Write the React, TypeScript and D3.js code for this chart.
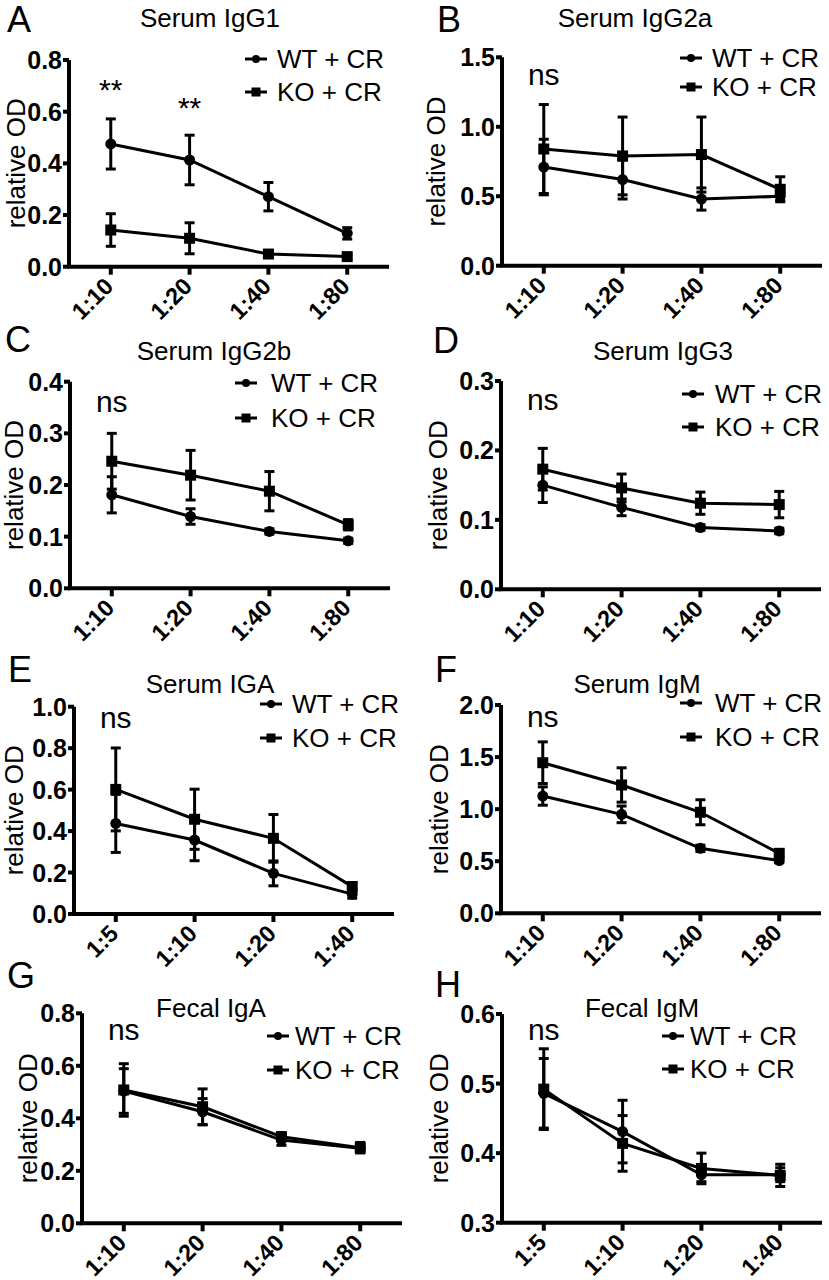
import React from "react";
import * as d3 from "d3";

// dilution categories
const dil10 = ["1:10", "1:20", "1:40", "1:80"];
const dil5 = ["1:5", "1:10", "1:20", "1:40"];
const seriesNames = ["WT + CR", "KO + CR"];

// A Serum IgG1
const igg1WT = [0.475, 0.413, 0.271, 0.129];
const igg1WTErr = [0.097, 0.096, 0.055, 0.022];
const igg1KO = [0.142, 0.11, 0.049, 0.039];
const igg1KOErr = [0.063, 0.06, 0.01, 0.008];
// B Serum IgG2a
const igg2aWT = [0.71, 0.62, 0.48, 0.5];
const igg2aWTErr = [0.2, 0.14, 0.08, 0.03];
const igg2aKO = [0.84, 0.79, 0.8, 0.55];
const igg2aKOErr = [0.32, 0.28, 0.27, 0.09];
// C Serum IgG2b
const igg2bWT = [0.181, 0.139, 0.11, 0.092];
const igg2bWTErr = [0.035, 0.015, 0.005, 0.005];
const igg2bKO = [0.246, 0.219, 0.188, 0.123];
const igg2bKOErr = [0.054, 0.048, 0.038, 0.01];
// D Serum IgG3
const igg3WT = [0.15, 0.118, 0.089, 0.084];
const igg3WTErr = [0.025, 0.012, 0.004, 0.004];
const igg3KO = [0.173, 0.146, 0.124, 0.122];
const igg3KOErr = [0.03, 0.02, 0.016, 0.019];
// E Serum IGA
const igaWT = [0.437, 0.357, 0.196, 0.096];
const igaWTErr = [0.14, 0.1, 0.06, 0.02];
const igaKO = [0.601, 0.457, 0.365, 0.132];
const igaKOErr = [0.2, 0.145, 0.115, 0.02];
// F Serum IgM
const igmWT = [1.126, 0.95, 0.624, 0.506];
const igmWTErr = [0.088, 0.08, 0.03, 0.02];
const igmKO = [1.446, 1.232, 0.97, 0.576];
const igmKOErr = [0.2, 0.165, 0.12, 0.02];
// G Fecal IgA
const fIgaWT = [0.504, 0.425, 0.317, 0.286];
const fIgaWTErr = [0.085, 0.05, 0.02, 0.015];
const fIgaKO = [0.508, 0.444, 0.33, 0.288];
const fIgaKOErr = [0.1, 0.068, 0.015, 0.02];
// H Fecal IgM
const fIgmWT = [0.486, 0.431, 0.369, 0.369];
const fIgmWTErr = [0.05, 0.045, 0.01, 0.01];
const fIgmKO = [0.492, 0.414, 0.378, 0.368];
const fIgmKOErr = [0.058, 0.04, 0.022, 0.016];

const FONT = "Liberation Sans, Arial, sans-serif";

const panels = [
  { letter: "A", lx: 7, ly: 32, title: "Serum IgG1", tx: 210, ty: 27, x0: 69, yB: 266.7, yT: 60, ylabX: 25,
    legX: 245, legTX: 277, legY: [59, 92], cats: dil10, yMin: 0, yMax: 0.8, step: 0.2,
    wt: igg1WT, wtErr: igg1WTErr, ko: igg1KO, koErr: igg1KOErr,
    ann: [{ text: "**", i: 0, y: 100 }, { text: "**", i: 1, y: 118 }] },
  { letter: "B", lx: 437, ly: 32, title: "Serum IgG2a", tx: 635, ty: 27, x0: 502, yB: 265.7, yT: 57.3, ylabX: 445,
    legX: 680, legTX: 712, legY: [58, 87], cats: dil10, yMin: 0, yMax: 1.5, step: 0.5,
    wt: igg2aWT, wtErr: igg2aWTErr, ko: igg2aKO, koErr: igg2aKOErr,
    ann: [{ text: "ns", i: 0, y: 85 }] },
  { letter: "C", lx: 5, ly: 352, title: "Serum IgG2b", tx: 214, ty: 360, x0: 70, yB: 588.3, yT: 381.7, ylabX: 23,
    legX: 235, legTX: 271, legY: [383, 418], cats: dil10, yMin: 0, yMax: 0.4, step: 0.1,
    wt: igg2bWT, wtErr: igg2bWTErr, ko: igg2bKO, koErr: igg2bKOErr,
    ann: [{ text: "ns", i: 0, y: 412 }] },
  { letter: "D", lx: 433, ly: 353, title: "Serum IgG3", tx: 663, ty: 360, x0: 501, yB: 589.3, yT: 381, ylabX: 447,
    legX: 682, legTX: 715, legY: [394, 427], cats: dil10, yMin: 0, yMax: 0.3, step: 0.1,
    wt: igg3WT, wtErr: igg3WTErr, ko: igg3KO, koErr: igg3KOErr,
    ann: [{ text: "ns", i: 0, y: 410 }] },
  { letter: "E", lx: 8, ly: 682, title: "Serum IGA", tx: 210, ty: 693, x0: 74, yB: 914, yT: 706.7, ylabX: 23,
    legX: 260, legTX: 292, legY: [704, 738], cats: dil5, yMin: 0, yMax: 1.0, step: 0.2,
    wt: igaWT, wtErr: igaWTErr, ko: igaKO, koErr: igaKOErr,
    ann: [{ text: "ns", i: 0, y: 728 }] },
  { letter: "F", lx: 435, ly: 682, title: "Serum IgM", tx: 637, ty: 693, x0: 501, yB: 913.3, yT: 705, ylabX: 448,
    legX: 680, legTX: 715, legY: [703, 737], cats: dil10, yMin: 0, yMax: 2.0, step: 0.5,
    wt: igmWT, wtErr: igmWTErr, ko: igmKO, koErr: igmKOErr,
    ann: [{ text: "ns", i: 0, y: 727 }] },
  { letter: "G", lx: 7, ly: 988, title: "Fecal IgA", tx: 211, ty: 1017, x0: 82, yB: 1223.3, yT: 1013.3, ylabX: 37,
    legX: 267, legTX: 295, legY: [1036, 1070], cats: dil10, yMin: 0, yMax: 0.8, step: 0.2,
    wt: fIgaWT, wtErr: fIgaWTErr, ko: fIgaKO, koErr: fIgaKOErr,
    ann: [{ text: "ns", i: 0, y: 1040 }] },
  { letter: "H", lx: 435, ly: 997, title: "Fecal IgM", tx: 642, ty: 1017, x0: 502, yB: 1222.7, yT: 1014, ylabX: 448,
    legX: 662, legTX: 690, legY: [1036, 1069], cats: dil5, yMin: 0.3, yMax: 0.6, step: 0.1,
    wt: fIgmWT, wtErr: fIgmWTErr, ko: fIgmKO, koErr: fIgmKOErr,
    ann: [{ text: "ns", i: 0, y: 1040 }] },
];

function Marker({ kind, cx, cy, size }) {
  if (kind === "circle") return <circle cx={cx} cy={cy} r={size / 2} fill="#000" />;
  return <rect x={cx - size / 2} y={cy - size / 2} width={size} height={size} fill="#000" />;
}

function Panel({ p }) {
  const x = d3.scalePoint().domain(p.cats).range([p.x0, p.x0 + 320]).padding(0.53);
  const y = d3.scaleLinear().domain([p.yMin, p.yMax]).range([p.yB, p.yT]);
  const ticks = d3.range(0, Math.round((p.yMax - p.yMin) / p.step) + 1).map((k) => p.yMin + k * p.step);
  const line = d3.line().x((d) => x(d.c)).y((d) => y(d.v));
  const series = [
    { kind: "circle", vals: p.wt, errs: p.wtErr },
    { kind: "square", vals: p.ko, errs: p.koErr },
  ].map((s) => ({ ...s, pts: p.cats.map((c, i) => ({ c, v: s.vals[i], e: s.errs[i] })) }));
  const x1 = p.x0 + 320;

  return (
    <g>
      <text x={p.lx} y={p.ly} fontSize={36}>{p.letter}</text>
      <text x={p.tx} y={p.ty} fontSize={26} textAnchor="middle">{p.title}</text>
      <text transform={`translate(${p.ylabX},${(p.yB + p.yT) / 2}) rotate(-90)`} fontSize={26} textAnchor="middle">
        relative OD
      </text>

      {/* axes */}
      <path d={`M${p.x0},${p.yT}L${p.x0},${p.yB}L${x1},${p.yB}`} fill="none" stroke="#000" strokeWidth={4} />
      {ticks.map((t) => (
        <g key={t}>
          <line x1={p.x0 - 6} x2={p.x0} y1={y(t)} y2={y(t)} stroke="#000" strokeWidth={4} />
          <text x={p.x0 - 7} y={y(t)} dy="0.36em" textAnchor="end" fontSize={25} fontWeight="bold">
            {d3.format(".1f")(t)}
          </text>
        </g>
      ))}
      {p.cats.map((c) => (
        <g key={c}>
          <line x1={x(c)} x2={x(c)} y1={p.yB} y2={p.yB + 8} stroke="#000" strokeWidth={4} />
          <text transform={`translate(${x(c) + 4},${p.yB + 21}) rotate(-45)`} textAnchor="end" fontSize={23.5} fontWeight="bold">
            {c}
          </text>
        </g>
      ))}

      {/* error bars */}
      {series.map((s, si) =>
        s.pts.map((d, i) => (
          <g key={`e${si}-${i}`} stroke="#000" strokeWidth={3}>
            <line x1={x(d.c)} x2={x(d.c)} y1={y(d.v - d.e)} y2={y(d.v + d.e)} />
            <line x1={x(d.c) - 5} x2={x(d.c) + 5} y1={y(d.v + d.e)} y2={y(d.v + d.e)} />
            <line x1={x(d.c) - 5} x2={x(d.c) + 5} y1={y(d.v - d.e)} y2={y(d.v - d.e)} />
          </g>
        ))
      )}
      {series.map((s, si) => (
        <path key={`l${si}`} d={line(s.pts)} fill="none" stroke="#000" strokeWidth={3} />
      ))}
      {series.map((s, si) =>
        s.pts.map((d, i) => <Marker key={`m${si}-${i}`} kind={s.kind} cx={x(d.c)} cy={y(d.v)} size={11} />)
      )}

      {/* legend */}
      {seriesNames.map((name, i) => (
        <g key={name}>
          <line x1={p.legX} x2={p.legX + 22} y1={p.legY[i]} y2={p.legY[i]} stroke="#000" strokeWidth={3} />
          <Marker kind={i === 0 ? "circle" : "square"} cx={p.legX + 11} cy={p.legY[i]} size={i === 0 ? 8 : 9} />
          <text x={p.legTX} y={p.legY[i]} dy="0.36em" fontSize={26}>{name}</text>
        </g>
      ))}

      {p.ann.map((a, k) => (
        <text key={k} x={x(p.cats[a.i])} y={a.y} textAnchor="middle" fontSize={30}>{a.text}</text>
      ))}
    </g>
  );
}

export default function App() {
  return (
    <svg width={829} height={1280} style={{ position: "absolute", left: 0, top: 0, background: "#fff" }} fontFamily={FONT}>
      <rect width={829} height={1280} fill="#fff" />
      {panels.map((p) => (
        <Panel key={p.letter} p={p} />
      ))}
    </svg>
  );
}
